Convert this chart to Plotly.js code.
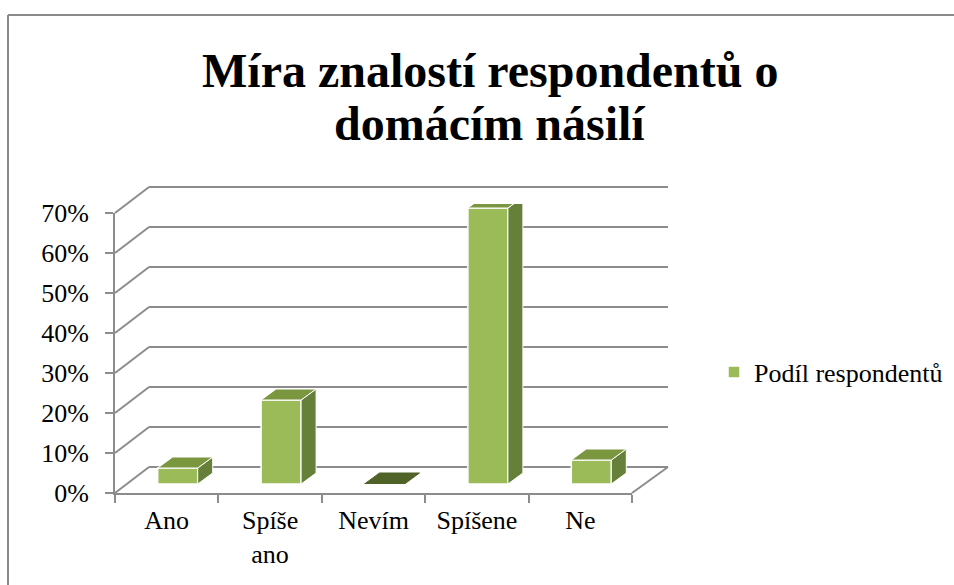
<!DOCTYPE html>
<html>
<head>
<meta charset="utf-8">
<script src="https://cdn.plot.ly/plotly-3.0.1.min.js"></script>
<style>html,body{margin:0;padding:0;background:#fff;}#chart{width:954px;height:585px;}</style>
</head>
<body>
<div id="chart"></div>
<script>
// ---- data ----
const categories = ['Ano', 'Spíše ano', 'Nevím', 'Spíšene', 'Ne'];
const tickLabels = ['Ano', 'Spíše<br>ano', 'Nevím', 'Spíšene', 'Ne'];
const seriesName = 'Podíl respondentů';
const values = [0.04, 0.21, 0.00, 0.69, 0.06];
const yTicks = [0, 0.1, 0.2, 0.3, 0.4, 0.5, 0.6, 0.7];
const titleLines = ['Míra znalostí respondentů o', 'domácím násilí'];

// ---- layout geometry (pixels) ----
const W = 954, H = 585;
const px = x => x / W, py = y => 1 - y / H;
const yMax = 0.7;
const F = {x0: 115, x1: 632, y0: 493, y1: 213};   // front plane (axis)
const B = {x0: 149, x1: 668, y0: 467, y1: 187};   // back wall
const R = {x0: 126, x1: 643, y0: 484, y1: 204};   // bar plane
const n = categories.length;
const catPx = (R.x1 - R.x0) / n;
const barW = 40 / catPx;
const dX = 15 / catPx;
const dY = 11 * yMax / (R.y0 - R.y1);
const pad = 0.01, padPx = pad * (B.y0 - B.y1) / yMax;

const serif = 'Liberation Serif';
const cFront = '#9BBB59', cSide = '#66803A', cTop = '#7A963F';
const grid = '#8c8c8c';

const traces = [];
// invisible traces so that the front axis and the back wall are drawn
traces.push({x: tickLabels, y: values, xaxis: 'x', yaxis: 'y', type: 'scatter', mode: 'none',
  showlegend: false, hoverinfo: 'skip'});
traces.push({x: [0, 1], y: [0, yMax], xaxis: 'x2', yaxis: 'y2', type: 'scatter', mode: 'none',
  showlegend: false, hoverinfo: 'skip'});
// front faces
traces.push({x: categories.map((c, i) => i), y: values, type: 'bar', xaxis: 'x3', yaxis: 'y3',
  name: seriesName, width: barW, marker: {color: cFront, line: {color: '#ffffff', width: 1.5}},
  hovertext: categories, hoverinfo: 'text+y'});
// side and top faces
values.forEach((v, i) => {
  const l = i - barW / 2, r = i + barW / 2;
  if (v > 0) {
    traces.push({x: [r, r + dX, r + dX, r, r], y: [0, dY, v + dY, v, 0], xaxis: 'x3', yaxis: 'y3',
      type: 'scatter', mode: 'lines', fill: 'toself', fillcolor: cSide,
      line: {color: '#ffffff', width: 1}, showlegend: false, hoverinfo: 'skip'});
  }
  traces.push({x: [l, l + dX, r + dX, r, l], y: [v, v + dY, v + dY, v, v], xaxis: 'x3', yaxis: 'y3',
    type: 'scatter', mode: 'lines', fill: 'toself', fillcolor: v > 0 ? cTop : '#4F6228',
    line: {color: v > 0 ? '#ffffff' : '#4F6228', width: 1}, showlegend: false, hoverinfo: 'skip'});
});

// decorative 3D wall lines
const shapes = [];
yTicks.forEach(v => {
  shapes.push({type: 'line', xref: 'paper', yref: 'paper',
    x0: px(F.x0), y0: py(F.y0 - v / yMax * (F.y0 - F.y1)),
    x1: px(B.x0), y1: py(B.y0 - v / yMax * (B.y0 - B.y1)),
    line: {color: grid, width: 2}});
});
shapes.push({type: 'line', xref: 'paper', yref: 'paper', x0: px(F.x1), y0: py(F.y0), x1: px(B.x1), y1: py(B.y0),
  line: {color: grid, width: 2}});
// chart border (top and left)
shapes.push({type: 'line', xref: 'paper', yref: 'paper', x0: px(8), y0: py(15), x1: 1, y1: py(15), line: {color: '#8a8a8a', width: 2}});
shapes.push({type: 'line', xref: 'paper', yref: 'paper', x0: px(8), y0: py(15), x1: px(8), y1: 0, line: {color: '#8a8a8a', width: 2}});

const annotations = [
  {text: titleLines[0], xref: 'paper', yref: 'paper', x: px(490), y: py(70), xanchor: 'center', yanchor: 'middle',
   showarrow: false, font: {family: serif, size: 48, color: '#000', weight: 'bold'}},
  {text: titleLines[1], xref: 'paper', yref: 'paper', x: px(490), y: py(123), xanchor: 'center', yanchor: 'middle',
   showarrow: false, font: {family: serif, size: 48, color: '#000', weight: 'bold'}}
];

const layout = {
  width: W, height: H,
  margin: {l: 0, r: 0, t: 0, b: 0},
  font: {family: serif},
  paper_bgcolor: '#ffffff', plot_bgcolor: 'rgba(0,0,0,0)',
  showlegend: true,
  legend: {x: px(714), y: py(372), xanchor: 'left', yanchor: 'middle',
    font: {family: serif, size: 26, color: '#000'}, bgcolor: 'rgba(0,0,0,0)'},
  xaxis: {domain: [px(F.x0), px(F.x1)], type: 'category', range: [-0.5, n - 0.5],
    tickson: 'boundaries', ticks: 'outside', ticklen: 8, tickwidth: 2, tickcolor: grid,
    ticklabelstandoff: 3,
    showline: true, linecolor: grid, linewidth: 2, showgrid: false, zeroline: false,
    tickfont: {family: serif, size: 26, color: '#000'}, anchor: 'y', fixedrange: true},
  yaxis: {domain: [py(F.y0), py(F.y1)], range: [0, yMax], tickvals: yTicks, tickformat: '.0%',
    ticks: 'outside', ticklen: 8, tickwidth: 2, tickcolor: grid, ticklabelstandoff: 11,
    showline: true, linecolor: grid, linewidth: 2, showgrid: false, zeroline: false,
    tickfont: {family: serif, size: 26, color: '#000'}, anchor: 'x', fixedrange: true},
  xaxis2: {domain: [px(B.x0), px(B.x1)], range: [0, 1], showticklabels: false, showgrid: false,
    zeroline: false, showline: false, ticks: '', anchor: 'y2'},
  yaxis2: {domain: [py(B.y0 + padPx), py(B.y1 - padPx)], range: [-pad, yMax + pad], tickvals: yTicks,
    showticklabels: false, showgrid: true, gridcolor: grid, gridwidth: 2, zeroline: false,
    showline: false, ticks: '', anchor: 'x2'},
  xaxis3: {domain: [px(R.x0), px(R.x1)], range: [-0.5, n - 0.5], visible: false, anchor: 'y3'},
  yaxis3: {domain: [py(R.y0), py(R.y1)], range: [0, yMax], visible: false, anchor: 'x3'},
  shapes: shapes,
  annotations: annotations
};

Plotly.newPlot('chart', traces, layout, {displayModeBar: false, staticPlot: true});
</script>
</body>
</html>
